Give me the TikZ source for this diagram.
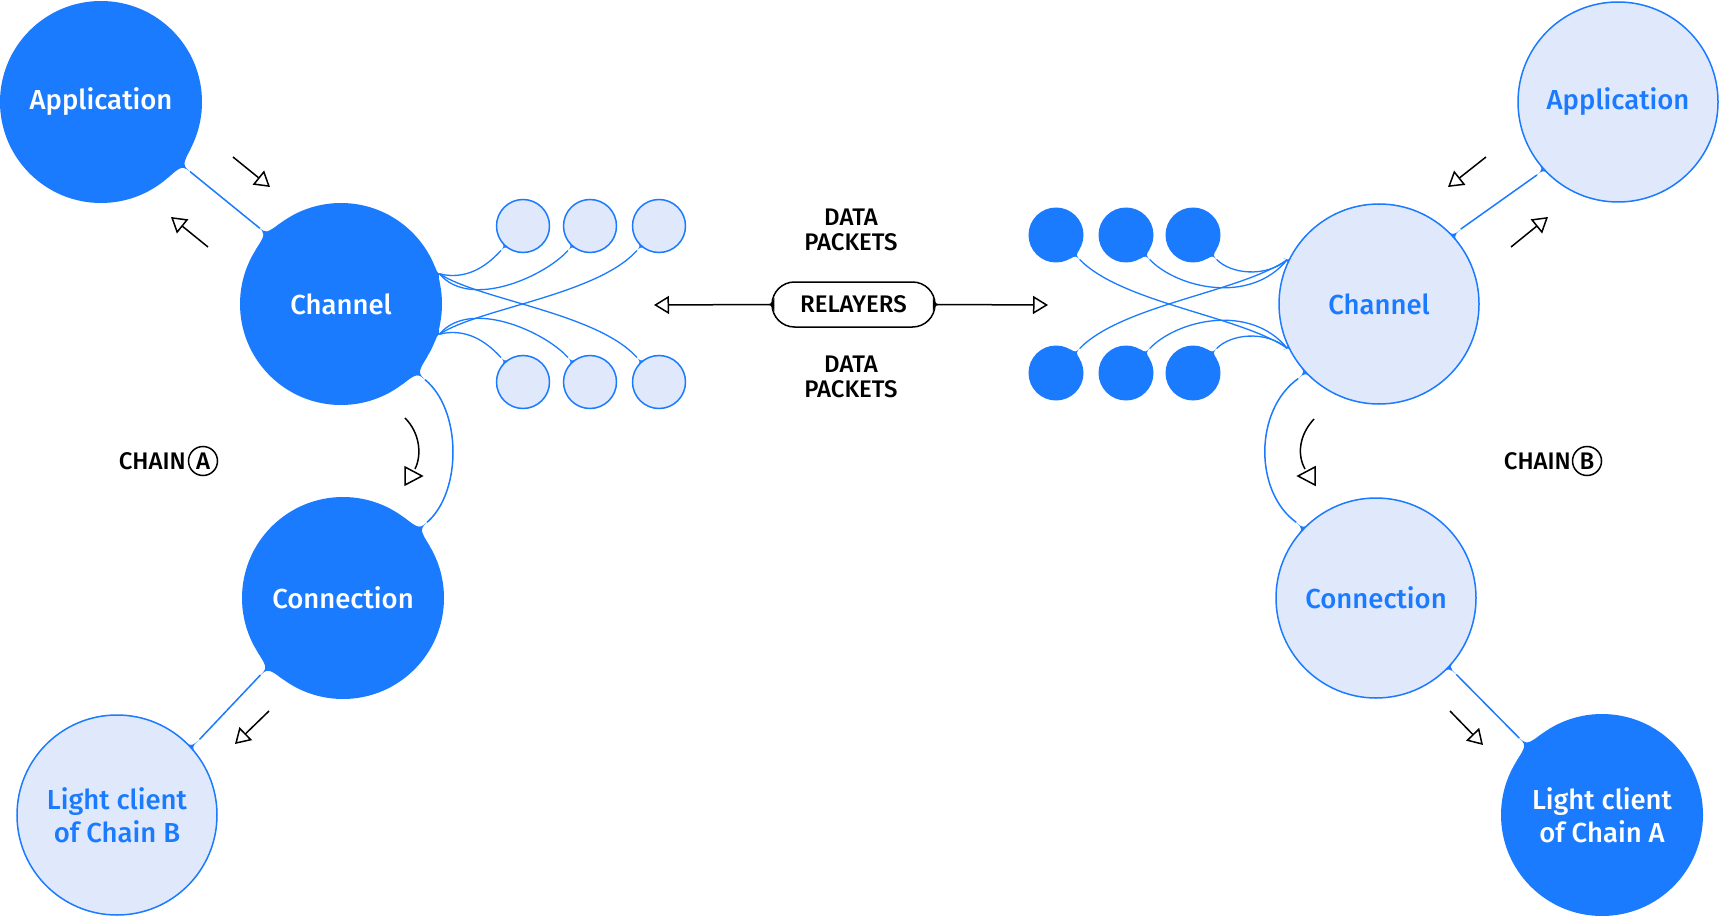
\documentclass[tikz,border=0pt]{standalone}
\usepackage{fontspec}
\setmainfont{Fira Sans}[UprightFont={* Medium}, BoldFont={* SemiBold}]
\usetikzlibrary{calc,arrows.meta}
\pgfdeclarelayer{bg}
\pgfsetlayers{bg,main}
\definecolor{dblue}{RGB}{27,123,255}
\definecolor{lblue}{RGB}{224,232,252}
\newcommand\mainlbl{\fontsize{27.5}{33}\selectfont}
\newcommand\smalllbl{\fontsize{24}{25}\selectfont}
% fillet: node, radius, angle, half-angle, extension, colour
\newcommand\blob[6]{\fill[#6] ($(#1.center)+({#3-#4}:#2)$) .. controls ($(#1.center)+(#3:{#2/cos(#4)})$) .. ($(#1.center)+(#3:{#2+#5})$) .. controls ($(#1.center)+(#3:{#2/cos(#4)})$) .. ($(#1.center)+({#3+#4}:#2)$) -- cycle;}
\tikzset{
  bigdark/.style={circle, fill=dblue, minimum size=202pt, inner sep=0pt, outer sep=0pt, text=white, font=\mainlbl, align=center},
  biglight/.style={circle, fill=lblue, draw=dblue, line width=1.5pt, minimum size=200pt, inner sep=0pt, outer sep=0pt, text=dblue, font=\mainlbl, align=center},
  smalllight/.style={circle, fill=lblue, draw=dblue, line width=1.5pt, minimum size=53pt, inner sep=0pt},
  smalldark/.style={circle, fill=dblue, minimum size=55pt, inner sep=0pt},
  link/.style={draw=dblue, line width=1.5pt},
  thinlink/.style={draw=dblue, line width=1.3pt},
  arrline/.style={draw=black, line width=1.5pt},
  arr/.style={arrline, -{Triangle[open, length=15pt, width=18pt, line width=1.5pt]}},
  lbl/.style={font=\smalllbl, align=center, text=black},
  pill/.style={draw=black, line width=1.5pt, fill=white, rounded corners=22.5pt, minimum width=163pt, minimum height=45pt, inner sep=0pt, font=\smalllbl},
  chainc/.style={draw=black, circle, line width=1.5pt, minimum size=29pt, inner sep=0pt, font=\smalllbl}
}
\begin{document}
\begin{tikzpicture}[x=1pt,y=-1pt]
\useasboundingbox (0,0) rectangle (1720,917);
% big circles
\node[bigdark] (appA) at (101,102) {Application};
\node[bigdark] (chA) at (341,304) {Channel};
\node[bigdark] (connA) at (343,598) {Connection};
\node[biglight] (lcB) at (117,815) {Light client\\of Chain B};
\node[biglight] (appB) at (1618,102) {Application};
\node[biglight] (chB) at (1379,304) {Channel};
\node[biglight] (connB) at (1376,598) {Connection};
\node[bigdark] (lcA) at (1602,815) {Light client\\of Chain A};
% small packets left
\node[smalllight] (pa1) at (523,226) {};
\node[smalllight] (pa2) at (590,226) {};
\node[smalllight] (pa3) at (659,226) {};
\node[smalllight] (pb1) at (523,382) {};
\node[smalllight] (pb2) at (590,382) {};
\node[smalllight] (pb3) at (659,382) {};
% small packets right
\node[smalldark] (qa1) at (1056,235) {};
\node[smalldark] (qa2) at (1126,235) {};
\node[smalldark] (qa3) at (1193,235) {};
\node[smalldark] (qb1) at (1056,373) {};
\node[smalldark] (qb2) at (1126,373) {};
\node[smalldark] (qb3) at (1193,373) {};
% relayers
\node[pill] (rel) at (853.5,304.5) {RELAYERS};
\coordinate (relL) at (654,305);
\coordinate (relR) at (1048,305);
\node[lbl] (dp1) at (851,230) {DATA\\PACKETS};
\node[lbl] (dp2) at (851,377) {DATA\\PACKETS};
% chain labels
\node[lbl, anchor=east, inner sep=0pt] (chainA) at (186,461) {CHAIN};
\node[chainc] (cA) at (203,461) {A};
\node[lbl, anchor=east, inner sep=0pt] (chainB) at (1571,461) {CHAIN};
\node[chainc] (cB) at (1587,461) {B};

\begin{pgfonlayer}{bg}
\fill[white] (0,0) rectangle (1720,917);
% main links
\draw[link] ($(appA.center)+(38:113)$) -- ($(chA.center)+(223:111)$);
\draw[link] ($(chA.center)+(42:113)$) .. controls (462,410) and (462,492) .. ($(connA.center)+(-42:113)$);
\draw[link] ($(connA.center)+(137:113)$) -- ($(lcB.center)+(317.5:112)$);
\draw[link] ($(chB.center)+(-42.5:111)$) -- ($(appB.center)+(138:109)$);
\draw[link] ($(chB.center)+(137.3:110)$) .. controls (1254,410) and (1254,492) .. ($(connB.center)+(223.5:110)$);
\draw[link] ($(connB.center)+(43.6:111)$) -- ($(lcA.center)+(222.9:113)$);
\blob{appA}{101}{38}{11}{15}{dblue}
\blob{chA}{101}{223}{11}{13}{dblue}
\blob{chA}{101}{42}{11}{15}{dblue}
\blob{connA}{101}{-42}{11}{15}{dblue}
\blob{connA}{101}{137}{11}{15}{dblue}
\blob{lcB}{100}{317.5}{7}{13}{dblue}
\blob{chB}{100}{-42.5}{7}{12}{dblue}
\blob{appB}{100}{138}{7}{10}{dblue}
\blob{chB}{100}{137.3}{7}{11}{dblue}
\blob{connB}{100}{223.5}{7}{11}{dblue}
\blob{connB}{100}{43.6}{7}{12}{dblue}
\blob{lcA}{101}{222.9}{11}{15}{dblue}
% packet lines left
\draw[thinlink] ($(chA.center)+(-17:103)$) .. controls (465,280) and (485,268) .. ($(pa1.center)+(132:33)$);
\draw[thinlink] ($(chA.center)+(-17:103)$) .. controls (470,310) and (544.6,276.5) .. ($(pa2.center)+(132:33)$);
\draw[thinlink] ($(chA.center)+(-17:103)$) .. controls (480,300) and (597,313) .. ($(pb3.center)+(228:33)$);
\draw[thinlink] ($(chA.center)+(17:103)$) .. controls (465,328) and (485,340) .. ($(pb1.center)+(228:33)$);
\draw[thinlink] ($(chA.center)+(17:103)$) .. controls (470,298) and (544.6,331.5) .. ($(pb2.center)+(228:33)$);
\draw[thinlink] ($(chA.center)+(17:103)$) .. controls (480,308) and (597,295) .. ($(pa3.center)+(132:33)$);
\blob{chA}{101}{-17}{5}{6}{dblue}
\blob{chA}{101}{17}{5}{6}{dblue}
\foreach \n in {pa1,pa2,pa3} {\blob{\n}{26.5}{132}{15}{8}{dblue}}
\foreach \n in {pb1,pb2,pb3} {\blob{\n}{26.5}{228}{15}{8}{dblue}}
% packet lines right
\draw[thinlink] ($(chB.center)+(205.6:102)$) .. controls (1265,278) and (1230.5,273.9) .. ($(qa3.center)+(46:34)$);
\draw[thinlink] ($(chB.center)+(205.6:102)$) .. controls (1250,305) and (1177.4,288.3) .. ($(qa2.center)+(46:34)$);
\draw[thinlink] ($(chB.center)+(205.6:102)$) .. controls (1240,292) and (1121.3,305.4) .. ($(qb1.center)+(-46:34)$);
\draw[thinlink] ($(chB.center)+(154.4:102)$) .. controls (1265,330) and (1230.5,334.1) .. ($(qb3.center)+(-46:34)$);
\draw[thinlink] ($(chB.center)+(154.4:102)$) .. controls (1250,303) and (1177.4,319.7) .. ($(qb2.center)+(-46:34)$);
\draw[thinlink] ($(chB.center)+(154.4:102)$) .. controls (1240,316) and (1121.3,302.6) .. ($(qa1.center)+(46:34)$);
\blob{chB}{100}{205.6}{5}{6}{dblue}
\blob{chB}{100}{154.4}{5}{6}{dblue}
\foreach \n in {qa1,qa2,qa3} {\blob{\n}{27.5}{46}{15}{8}{dblue}}
\foreach \n in {qb1,qb2,qb3} {\blob{\n}{27.5}{-46}{15}{8}{dblue}}
\end{pgfonlayer}

% relayer arrows
\draw[arr] (rel.west) -- (relL);
\draw[arr] (rel.east) -- (relR);
\fill ($(rel.west)+(3,-7)$) .. controls (rel.west) .. ($(rel.west)+(-10,0)$) .. controls (rel.west) .. ($(rel.west)+(3,7)$) -- cycle;
\fill ($(rel.east)+(-3,-7)$) .. controls (rel.east) .. ($(rel.east)+(10,0)$) .. controls (rel.east) .. ($(rel.east)+(-3,7)$) -- cycle;

% direction arrows
\draw[arr] (233,157) -- (270,187);
\draw[arr] (208,247) -- (171,217);
\draw[arr] (1486,157) -- (1448,187);
\draw[arr] (1511,247) -- (1548,217);
\draw[arr] (269,711) -- (235,744);
\draw[arr] (1450,711) -- (1483,745);
% curved arrows
\draw[arrline] (405,418) .. controls (420,433) and (422,455) .. (415,469);
\draw[arrline, line join=miter] (405,467) -- (422,476) -- (405,485) -- cycle;
\draw[arrline] (1314,419) .. controls (1299,435) and (1297,455) .. (1305,469);
\draw[arrline, line join=miter] (1315,467) -- (1298,476) -- (1315,485) -- cycle;
\end{tikzpicture}
\end{document}
